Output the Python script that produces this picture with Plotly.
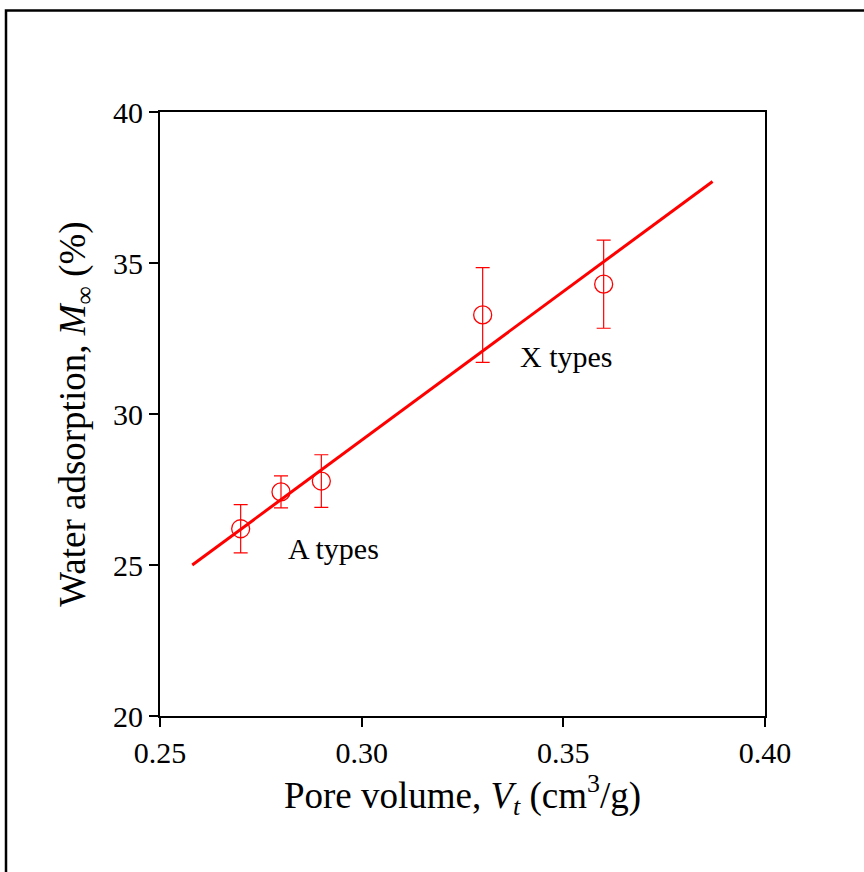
import plotly.graph_objects as go

# Data
pore_volume = [0.27, 0.28, 0.29, 0.33, 0.36]
water_ads = [26.2, 27.42, 27.78, 33.28, 34.30]
err_plus = [0.8, 0.53, 0.87, 1.57, 1.46]
err_minus = [0.8, 0.53, 0.87, 1.57, 1.46]
fit_x = [0.258, 0.387]
fit_y = [25.0, 37.7]
x_ticks = [0.25, 0.30, 0.35, 0.40]
x_ticklabels = ["0.25", "0.30", "0.35", "0.40"]
y_ticks = [20, 25, 30, 35, 40]
y_ticklabels = ["20", "25", "30", "35", "40"]
labels = ["A types", "X types"]
label_x = [0.2929, 0.3507]
label_y = [25.56, 31.89]

RED = "#ff0000"
FONT = "Liberation Serif, Times New Roman, serif"

fig = go.Figure()
fig.add_trace(go.Scatter(
    x=fit_x, y=fit_y, mode="lines",
    line=dict(color=RED, width=3), showlegend=False, hoverinfo="skip"))
fig.add_trace(go.Scatter(
    x=pore_volume, y=water_ads, mode="markers",
    marker=dict(symbol="circle-open", size=18, color=RED, line=dict(width=1.3, color=RED)),
    error_y=dict(type="data", symmetric=False, array=err_plus, arrayminus=err_minus,
                 color=RED, thickness=1.2, width=7),
    showlegend=False))

for t, lx, ly in zip(labels, label_x, label_y):
    fig.add_annotation(x=lx, y=ly, text=t, showarrow=False,
                       font=dict(family=FONT, size=30, color="black"))

# outer border
fig.add_shape(type="rect", xref="paper", yref="paper",
              x0=(6 - 160) / 605, x1=(900 - 160) / 605,
              y0=(716 - 900) / 604, y1=(716 - 10.5) / 604,
              line=dict(color="black", width=2.5), layer="below")

axis_common = dict(showgrid=False, zeroline=False, showline=True, linecolor="black",
                   linewidth=2, mirror=True, ticks="outside", ticklen=9, tickwidth=2,
                   tickcolor="black", tickfont=dict(family=FONT, size=30, color="black"))

fig.update_xaxes(range=[0.25, 0.40], tickvals=x_ticks, ticktext=x_ticklabels,
                 title=dict(text="Pore volume, <i>V</i><sub><i>t</i></sub> (cm<sup>3</sup>/g)",
                            font=dict(family=FONT, size=37, color="black"), standoff=12),
                 **axis_common)
fig.update_yaxes(range=[20, 40], tickvals=y_ticks, ticktext=y_ticklabels,
                 title=dict(text="Water adsorption, <i>M</i><sub>∞</sub> (%)",
                            font=dict(family=FONT, size=37, color="black"), standoff=16),
                 **axis_common)

fig.update_layout(width=864, height=872, margin=dict(l=160, r=99, t=112, b=156),
                  plot_bgcolor="white", paper_bgcolor="white")

fig.write_html("out.html")
